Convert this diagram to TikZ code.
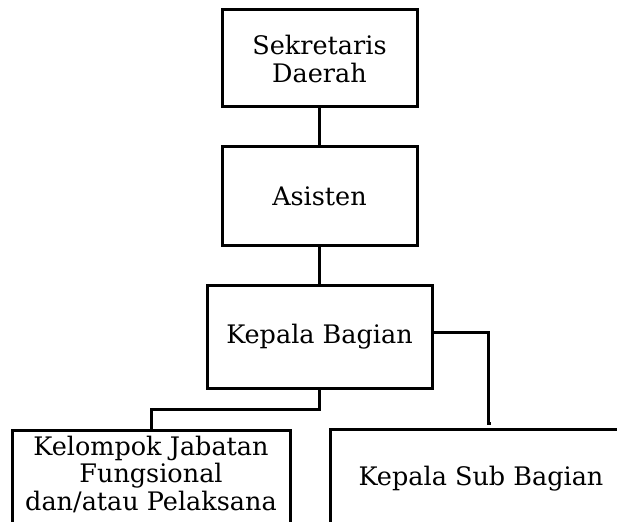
\documentclass[tikz,border=0pt]{standalone}
\usepackage{fontspec}
\setmainfont{DejaVu Serif}
\begin{document}
\begin{tikzpicture}[x=1pt,y=-1pt,
  orgbox/.style={draw=black, line width=3pt, fill=white, inner sep=0pt,
    align=center, font=\fontsize{25.5}{28}\selectfont},
  link/.style={draw=black, line width=3pt}]
\useasboundingbox (0,0) rectangle (617,521);
\clip (0,0) rectangle (617,521);
% boxes
\node[orgbox, minimum width=195pt, minimum height=97pt] (sekda) at (319.5,58.5) {Sekretaris\\Daerah};
\node[orgbox, minimum width=195pt, minimum height=98pt] (asisten) at (319.5,196) {Asisten};
\node[orgbox, minimum width=225pt, minimum height=103pt] (kabag) at (319.5,336.5) {Kepala Bagian};
\node[orgbox, minimum width=278pt, minimum height=118pt, anchor=north] (jafung) at (151,429) {};
% label of the lower-left box, last line sitting on its baseline
\node[font=\fontsize{25.5}{27.5}\selectfont, align=center, anchor=base] (jafungtext) at (151,510)
  {Kelompok Jabatan\\Fungsional\\dan/atau Pelaksana};
\node[orgbox, minimum width=302pt, minimum height=100pt] (kasubag) at (481,479) {Kepala Sub Bagian};
% connectors
\coordinate (subend) at (488,423);
\draw[link] (sekda.south) -- (asisten.north);
\draw[link] (asisten.south) -- (kabag.north);
\draw[link] (kabag.south) -- ++(0,20) -| (jafung.north);
\draw[link] (kabag.east |- 0,332) -| (subend) -- ++(3,0);
\end{tikzpicture}
\end{document}
